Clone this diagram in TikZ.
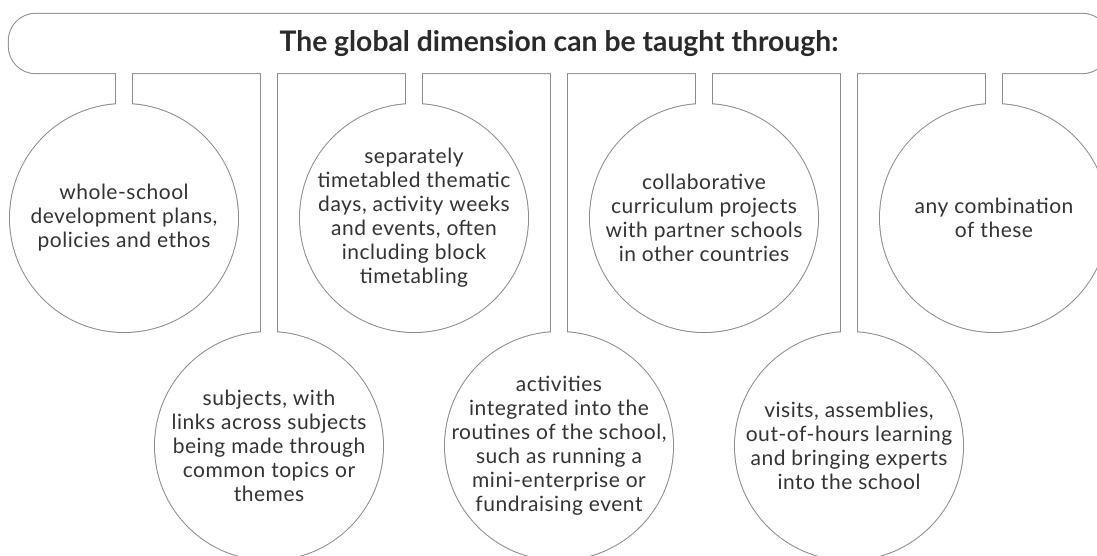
\documentclass[tikz,border=0pt]{standalone}
\usepackage{fontspec}
\setmainfont{Lato}
\newfontfamily\bodyfont[LetterSpace=2.5]{Lato}
\usetikzlibrary{calc,backgrounds}
\definecolor{linegray}{HTML}{8C8C8C}
\definecolor{txt}{HTML}{2A2A2A}
\definecolor{bodytxt}{HTML}{333333}
\tikzset{
  outl/.style={draw=linegray, line width=2pt},
  blank/.style={fill=white},
  lbl/.style={align=center, font=\bodyfont\fontsize{21}{24}\selectfont, text=bodytxt, inner sep=0pt},
  ttl/.style={font=\bfseries\fontsize{28.3}{32}\selectfont, text=txt, inner sep=0pt,
    minimum width=1100pt, minimum height=59pt},
}
\newcommand\allshapes[1]{%
  \path[#1, rounded corners=27pt] (bar.south west) rectangle (bar.north east);
  \foreach \i in {1,...,7}{%
    \path[#1] (c\i.center) circle[radius=114pt];
    \path[#1] ($(c\i.center)+(-8pt,100pt)$) rectangle ($(c\i.center |- bar.center)+(8pt,0pt)$);
  }%
}
\begin{document}
\begin{tikzpicture}[x=1pt,y=-1pt]
\useasboundingbox (0,0) rectangle (1097,556);
\node[ttl] (bar) at (559,43.5) {The global dimension can be taught through:};
\node[lbl] (c1) at (124,218) {whole-school\\development plans,\\policies and ethos};
\node[lbl] (c2) at (269,446) {subjects, with\\links across subjects\\being made through\\common topics or\\themes};
\node[lbl] (c3) at (414,218) {separately\\timetabled thematic\\days, activity weeks\\and events, often\\including block\\timetabling};
\node[lbl] (c4) at (559,446) {activities\\integrated into the\\routines of the school,\\such as running a\\mini-enterprise or\\fundraising event};
\node[lbl] (c5) at (704,218) {collaborative\\curriculum projects\\with partner schools\\in other countries};
\node[lbl] (c6) at (849,446) {visits, assemblies,\\out-of-hours learning\\and bringing experts\\into the school};
\node[lbl] (c7) at (994,218) {any combination\\of these};
\begin{pgfonlayer}{background}
  \clip (0,0) rectangle (1097,556);
  \allshapes{outl}
  \allshapes{blank}
\end{pgfonlayer}
\end{tikzpicture}
\end{document}
